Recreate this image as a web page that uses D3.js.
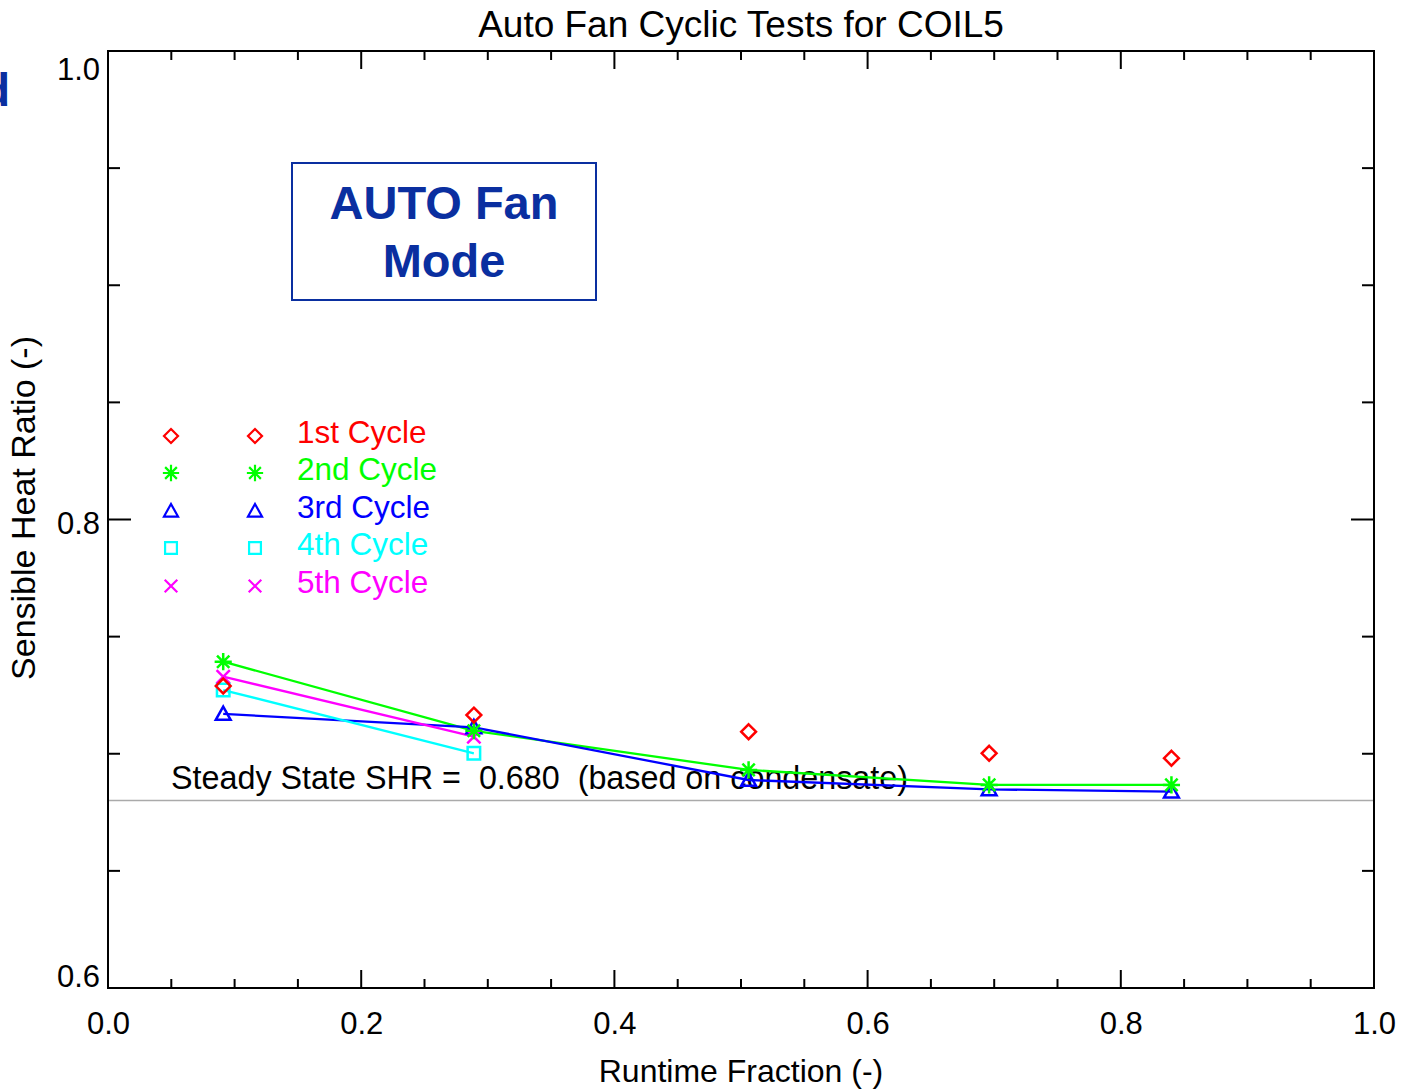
<!DOCTYPE html>
<html>
<head>
<meta charset="utf-8">
<script src="https://cdn.jsdelivr.net/npm/d3@7"></script>
<style>
  html, body { margin: 0; padding: 0; background: #fff; }
  svg { display: block; }
  text { font-family: "Liberation Sans", Arial, sans-serif; white-space: pre; }
</style>
</head>
<body>
<svg id="chart" width="1402" height="1089"></svg>
<script>
// Runtime fraction for each test point
const runtime = [0.091, 0.289, 0.506, 0.696, 0.840];

// Sensible heat ratio for each cycle
const cycle1 = [0.7289, 0.7165, 0.7094, 0.7002, 0.6981];
const cycle2 = [0.7393, 0.7098, 0.6931, 0.6867, 0.6867];
const cycle3 = [0.7170, 0.7113, 0.6888, 0.6848, 0.6838];
const cycle4 = [0.7272, 0.7002];
const cycle5 = [0.7329, 0.7073];

const cycleNames = ["1st Cycle", "2nd Cycle", "3rd Cycle", "4th Cycle", "5th Cycle"];
const cycleColors = ["#ff0000", "#00ff00", "#0000ff", "#00ffff", "#ff00ff"];
const cycleMarkers = ["diamond", "asterisk", "triangle", "square", "times"];
const cycleValues = [cycle1, cycle2, cycle3, cycle4, cycle5];

const steadyStateSHR = 0.680;

const xTicks = [0.0, 0.2, 0.4, 0.6, 0.8, 1.0];
const yTicks = [0.6, 0.8, 1.0];

const svg = d3.select("#chart");
const plotLeft = 108, plotRight = 1374, plotTop = 51, plotBottom = 988;

const x = d3.scaleLinear().domain([0, 1]).range([plotLeft, plotRight]);
const y = d3.scaleLinear().domain([0.6, 1.0]).range([plotBottom, plotTop]);

// Marker outlines centred on the origin
function markerPath(kind, r) {
  const p = d3.path();
  if (kind === "diamond") {
    const d = r * 0.95;
    p.moveTo(0, -d); p.lineTo(d, 0); p.lineTo(0, d); p.lineTo(-d, 0); p.closePath();
  } else if (kind === "square") {
    p.rect(-r * 0.8, -r * 0.8, r * 1.6, r * 1.6);
  } else if (kind === "triangle") {
    p.moveTo(0, -r * 0.95); p.lineTo(r * 0.95, r * 0.75); p.lineTo(-r * 0.95, r * 0.75); p.closePath();
  } else if (kind === "times") {
    const a = r * 0.85;
    p.moveTo(-a, -a); p.lineTo(a, a); p.moveTo(a, -a); p.lineTo(-a, a);
  } else if (kind === "asterisk") {
    const s = r * 1.1, a = s * 0.72;
    p.moveTo(0, -s); p.lineTo(0, s);
    p.moveTo(-s, 0); p.lineTo(s, 0);
    p.moveTo(-a, -a); p.lineTo(a, a);
    p.moveTo(a, -a); p.lineTo(-a, a);
  }
  return p.toString();
}

// Clipped blue glyph at the far left edge
svg.append("text")
  .attr("x", 10).attr("y", 106)
  .attr("text-anchor", "end")
  .attr("font-size", 46).attr("font-weight", "bold")
  .attr("fill", "#0a2fa0")
  .text("d");

// Title
svg.append("text")
  .attr("x", 741).attr("y", 37)
  .attr("text-anchor", "middle")
  .attr("font-size", 37)
  .text("Auto Fan Cyclic Tests for COIL5");

// Steady-state reference line
svg.append("line")
  .attr("x1", plotLeft).attr("x2", plotRight)
  .attr("y1", y(steadyStateSHR)).attr("y2", y(steadyStateSHR))
  .attr("stroke", "#aaaaaa").attr("stroke-width", 1.5);

// Axes with ticks on all four sides
const xMinor = d3.range(0, 1.0001, 0.05);
const yMinor = d3.range(0.6, 1.0001, 0.05);
const axisG = svg.append("g").attr("stroke", "#000").attr("stroke-width", 2);

const xAxisBottom = d3.axisBottom(x).tickValues(xTicks).tickSize(0).tickFormat(d3.format(".1f"));
const gx = svg.append("g").attr("transform", `translate(0,${plotBottom})`).call(xAxisBottom);
gx.select(".domain").remove();
gx.selectAll("text").attr("font-size", 31).attr("fill", "#000").attr("dy", null).attr("y", 46);

const yAxisLeft = d3.axisLeft(y).tickValues(yTicks).tickSize(0).tickFormat(d3.format(".1f"));
const gy = svg.append("g").attr("transform", `translate(${plotLeft},0)`).call(yAxisLeft);
gy.select(".domain").remove();
gy.selectAll("text")
  .attr("font-size", 31).attr("fill", "#000").attr("x", -8)
  .attr("dy", d => d === 1.0 ? "0.92em" : (d === 0.6 ? "-0.05em" : "0.45em"));

xMinor.forEach(v => {
  const major = xTicks.some(t => Math.abs(t - v) < 1e-6);
  const len = major ? 18 : 9;
  axisG.append("line").attr("x1", x(v)).attr("x2", x(v)).attr("y1", plotBottom).attr("y2", plotBottom - len);
  axisG.append("line").attr("x1", x(v)).attr("x2", x(v)).attr("y1", plotTop).attr("y2", plotTop + len);
});
yMinor.forEach(v => {
  const major = yTicks.some(t => Math.abs(t - v) < 1e-6);
  const len = major ? 23 : 12;
  axisG.append("line").attr("y1", y(v)).attr("y2", y(v)).attr("x1", plotLeft).attr("x2", plotLeft + len);
  axisG.append("line").attr("y1", y(v)).attr("y2", y(v)).attr("x1", plotRight).attr("x2", plotRight - len);
});
svg.append("rect")
  .attr("x", plotLeft).attr("y", plotTop)
  .attr("width", plotRight - plotLeft).attr("height", plotBottom - plotTop)
  .attr("fill", "none").attr("stroke", "#000").attr("stroke-width", 2);

// Axis titles
svg.append("text")
  .attr("x", 741).attr("y", 1082)
  .attr("text-anchor", "middle").attr("font-size", 32)
  .text("Runtime Fraction (-)");
svg.append("text")
  .attr("transform", "translate(35,508) rotate(-90)")
  .attr("text-anchor", "middle").attr("font-size", 34)
  .text("Sensible Heat Ratio (-)");

// Mode label box
svg.append("rect")
  .attr("x", 292).attr("y", 163).attr("width", 304).attr("height", 137)
  .attr("fill", "none").attr("stroke", "#0a2fa0").attr("stroke-width", 2);
svg.append("text")
  .attr("x", 444).attr("y", 219).attr("text-anchor", "middle")
  .attr("font-size", 47).attr("font-weight", "bold").attr("fill", "#0a2fa0")
  .text("AUTO Fan");
svg.append("text")
  .attr("x", 444).attr("y", 277).attr("text-anchor", "middle")
  .attr("font-size", 47).attr("font-weight", "bold").attr("fill", "#0a2fa0")
  .text("Mode");

// Steady-state annotation
svg.append("text")
  .attr("x", 171).attr("y", 789)
  .attr("font-size", 32.3)
  .text("Steady State SHR =  " + steadyStateSHR.toFixed(3) + "  (based on condensate)");

// Cycle lines (the 1st cycle is plotted as points only)
const line = d3.line().x(d => x(d[0])).y(d => y(d[1]));
const plotG = svg.append("g");
[1, 2, 3, 4].forEach(i => {
  const pts = cycleValues[i].map((v, j) => [runtime[j], v]);
  plotG.append("path")
    .attr("d", line(pts))
    .attr("fill", "none").attr("stroke", cycleColors[i]).attr("stroke-width", 2.3);
});

// Cycle markers
[3, 2, 4, 1, 0].forEach(i => {
  const pts = cycleValues[i].map((v, j) => [runtime[j], v]);
  plotG.selectAll(null).data(pts).enter().append("path")
    .attr("transform", d => `translate(${x(d[0])},${y(d[1])})`)
    .attr("d", markerPath(cycleMarkers[i], 7.8))
    .attr("fill", "none").attr("stroke", cycleColors[i]).attr("stroke-width", 2.5);
});

// Legend
const legendRows = [436, 473, 511, 548, 586];
const legend = svg.append("g");
cycleNames.forEach((name, i) => {
  [171, 255].forEach(cx => {
    legend.append("path")
      .attr("transform", `translate(${cx},${legendRows[i]})`)
      .attr("d", markerPath(cycleMarkers[i], 7.4))
      .attr("fill", "none").attr("stroke", cycleColors[i]).attr("stroke-width", 2.2);
  });
  legend.append("text")
    .attr("x", 297).attr("y", legendRows[i] + 7)
    .attr("font-size", 31.5).attr("fill", cycleColors[i])
    .text(name);
});
</script>
</body>
</html>
